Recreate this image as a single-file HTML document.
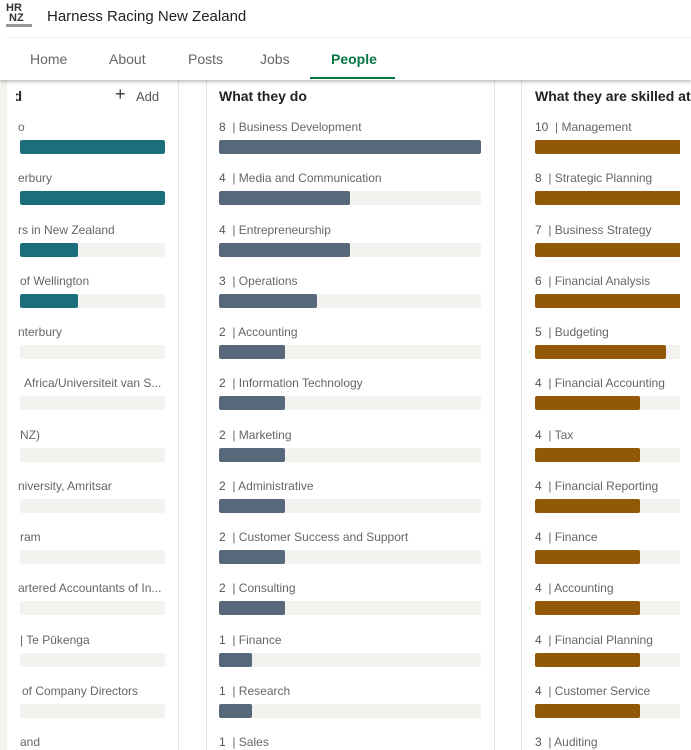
<!DOCTYPE html>
<html><head><meta charset="utf-8"><style>
*{margin:0;padding:0;box-sizing:border-box}
body{width:691px;height:750px;overflow:hidden;background:#fff;font-family:"Liberation Sans","DejaVu Sans",sans-serif;position:relative}
.a{position:absolute;white-space:nowrap}
.lbl{font-size:12px;color:#666;line-height:14px}
.lbl b{font-weight:normal;color:#555}
.tr{position:absolute;height:14px;background:#f3f2ef;border-radius:2px;overflow:hidden}
.f{height:100%;border-radius:2px}
.h{font-size:14px;font-weight:bold;color:#222}
.nav{font-size:14px;color:#666}
#rc{position:absolute;left:0;top:0;width:680px;height:750px;overflow:hidden}
</style></head><body>
<div class="a" style="left:0;top:80px;width:7px;height:670px;background:#f3f2ef"></div>
<div class="a" style="left:7px;top:80px;width:172px;height:670px;border-right:1px solid #e6e6e6;overflow:hidden"></div>
<div class="a" style="left:206px;top:80px;width:289px;height:670px;border-left:1px solid #e6e6e6;border-right:1px solid #e6e6e6"></div>
<div class="a" style="left:521px;top:80px;width:170px;height:670px;border-left:1px solid #e6e6e6"></div>
<!-- header -->
<div class="a" style="left:0;top:0;width:691px;height:80px;background:#fff;box-shadow:0 2px 3px rgba(0,0,0,0.25)"></div>
<div class="a" style="left:6px;top:3px;font-size:11px;font-weight:bold;line-height:10px;color:#333">HR<br>&nbsp;NZ</div>
<div class="a" style="left:6px;top:24px;width:26px;height:3px;background:#999"></div>
<div class="a" style="left:47px;top:8px;font-size:15px;color:#222">Harness Racing New Zealand</div>
<div class="a" style="left:7px;top:37px;width:684px;height:1px;background:#eee"></div>
<div class="a nav" style="left:30px;top:51px">Home</div>
<div class="a nav" style="left:109px;top:51px">About</div>
<div class="a nav" style="left:188px;top:51px">Posts</div>
<div class="a nav" style="left:260px;top:51px">Jobs</div>
<div class="a nav" style="left:331px;top:51px;color:#057642;font-weight:bold">People</div>
<div class="a" style="left:310px;top:77px;width:85px;height:2px;background:#057642"></div>
<!-- column headers -->
<div class="a h" style="left:16px;top:88px;width:6px;overflow:hidden;direction:rtl">d</div>
<div class="a" style="left:115px;top:84px;font-size:18px;color:#333">+</div>
<div class="a" style="left:136px;top:89px;font-size:13px;color:#555">Add</div>
<div class="a h" style="left:219px;top:88px">What they do</div>
<div class="a h" style="left:535px;top:88px">What they are skilled at</div>

<!-- left -->
<div class="a lbl" style="left:18px;top:120px">o</div><div class="tr" style="left:20px;top:140px;width:145px"><div class="f" style="width:100%;background:#1b6f7c"></div></div>
<div class="a lbl" style="left:18px;top:171px">erbury</div><div class="tr" style="left:20px;top:191px;width:145px"><div class="f" style="width:100%;background:#1b6f7c"></div></div>
<div class="a lbl" style="left:18px;top:223px">rs in New Zealand</div><div class="tr" style="left:20px;top:243px;width:145px"><div class="f" style="width:58px;background:#1b6f7c"></div></div>
<div class="a lbl" style="left:20px;top:274px">of Wellington</div><div class="tr" style="left:20px;top:294px;width:145px"><div class="f" style="width:58px;background:#1b6f7c"></div></div>
<div class="a lbl" style="left:18px;top:325px">nterbury</div><div class="tr" style="left:20px;top:345px;width:145px"></div>
<div class="a lbl" style="left:24px;top:376px">Africa/Universiteit van S...</div><div class="tr" style="left:20px;top:396px;width:145px"></div>
<div class="a lbl" style="left:20px;top:428px">NZ)</div><div class="tr" style="left:20px;top:448px;width:145px"></div>
<div class="a lbl" style="left:18px;top:479px">niversity, Amritsar</div><div class="tr" style="left:20px;top:499px;width:145px"></div>
<div class="a lbl" style="left:20px;top:530px">ram</div><div class="tr" style="left:20px;top:550px;width:145px"></div>
<div class="a lbl" style="left:18px;top:581px">artered Accountants of In...</div><div class="tr" style="left:20px;top:601px;width:145px"></div>
<div class="a lbl" style="left:20px;top:633px">| Te Pūkenga</div><div class="tr" style="left:20px;top:653px;width:145px"></div>
<div class="a lbl" style="left:22px;top:684px">of Company Directors</div><div class="tr" style="left:20px;top:704px;width:145px"></div>
<div class="a lbl" style="left:20px;top:735px">and</div>

<!-- middle -->
<div class="a lbl" style="left:219px;top:120px"><b>8</b>&nbsp; | Business Development</div><div class="tr" style="left:219px;top:140px;width:262px"><div class="f" style="width:262px;background:#56687a"></div></div>
<div class="a lbl" style="left:219px;top:171px"><b>4</b>&nbsp; | Media and Communication</div><div class="tr" style="left:219px;top:191px;width:262px"><div class="f" style="width:131px;background:#56687a"></div></div>
<div class="a lbl" style="left:219px;top:223px"><b>4</b>&nbsp; | Entrepreneurship</div><div class="tr" style="left:219px;top:243px;width:262px"><div class="f" style="width:131px;background:#56687a"></div></div>
<div class="a lbl" style="left:219px;top:274px"><b>3</b>&nbsp; | Operations</div><div class="tr" style="left:219px;top:294px;width:262px"><div class="f" style="width:98px;background:#56687a"></div></div>
<div class="a lbl" style="left:219px;top:325px"><b>2</b>&nbsp; | Accounting</div><div class="tr" style="left:219px;top:345px;width:262px"><div class="f" style="width:66px;background:#56687a"></div></div>
<div class="a lbl" style="left:219px;top:376px"><b>2</b>&nbsp; | Information Technology</div><div class="tr" style="left:219px;top:396px;width:262px"><div class="f" style="width:66px;background:#56687a"></div></div>
<div class="a lbl" style="left:219px;top:428px"><b>2</b>&nbsp; | Marketing</div><div class="tr" style="left:219px;top:448px;width:262px"><div class="f" style="width:66px;background:#56687a"></div></div>
<div class="a lbl" style="left:219px;top:479px"><b>2</b>&nbsp; | Administrative</div><div class="tr" style="left:219px;top:499px;width:262px"><div class="f" style="width:66px;background:#56687a"></div></div>
<div class="a lbl" style="left:219px;top:530px"><b>2</b>&nbsp; | Customer Success and Support</div><div class="tr" style="left:219px;top:550px;width:262px"><div class="f" style="width:66px;background:#56687a"></div></div>
<div class="a lbl" style="left:219px;top:581px"><b>2</b>&nbsp; | Consulting</div><div class="tr" style="left:219px;top:601px;width:262px"><div class="f" style="width:66px;background:#56687a"></div></div>
<div class="a lbl" style="left:219px;top:633px"><b>1</b>&nbsp; | Finance</div><div class="tr" style="left:219px;top:653px;width:262px"><div class="f" style="width:33px;background:#56687a"></div></div>
<div class="a lbl" style="left:219px;top:684px"><b>1</b>&nbsp; | Research</div><div class="tr" style="left:219px;top:704px;width:262px"><div class="f" style="width:33px;background:#56687a"></div></div>
<div class="a lbl" style="left:219px;top:735px"><b>1</b>&nbsp; | Sales</div>

<!-- right -->
<div id="rc">
<div class="a lbl" style="left:535px;top:120px"><b>10</b>&nbsp; | Management</div><div class="tr" style="left:535px;top:140px;width:262px"><div class="f" style="width:262px;background:#915907"></div></div>
<div class="a lbl" style="left:535px;top:171px"><b>8</b>&nbsp; | Strategic Planning</div><div class="tr" style="left:535px;top:191px;width:262px"><div class="f" style="width:210px;background:#915907"></div></div>
<div class="a lbl" style="left:535px;top:223px"><b>7</b>&nbsp; | Business Strategy</div><div class="tr" style="left:535px;top:243px;width:262px"><div class="f" style="width:183px;background:#915907"></div></div>
<div class="a lbl" style="left:535px;top:274px"><b>6</b>&nbsp; | Financial Analysis</div><div class="tr" style="left:535px;top:294px;width:262px"><div class="f" style="width:157px;background:#915907"></div></div>
<div class="a lbl" style="left:535px;top:325px"><b>5</b>&nbsp; | Budgeting</div><div class="tr" style="left:535px;top:345px;width:262px"><div class="f" style="width:131px;background:#915907"></div></div>
<div class="a lbl" style="left:535px;top:376px"><b>4</b>&nbsp; | Financial Accounting</div><div class="tr" style="left:535px;top:396px;width:262px"><div class="f" style="width:105px;background:#915907"></div></div>
<div class="a lbl" style="left:535px;top:428px"><b>4</b>&nbsp; | Tax</div><div class="tr" style="left:535px;top:448px;width:262px"><div class="f" style="width:105px;background:#915907"></div></div>
<div class="a lbl" style="left:535px;top:479px"><b>4</b>&nbsp; | Financial Reporting</div><div class="tr" style="left:535px;top:499px;width:262px"><div class="f" style="width:105px;background:#915907"></div></div>
<div class="a lbl" style="left:535px;top:530px"><b>4</b>&nbsp; | Finance</div><div class="tr" style="left:535px;top:550px;width:262px"><div class="f" style="width:105px;background:#915907"></div></div>
<div class="a lbl" style="left:535px;top:581px"><b>4</b>&nbsp; | Accounting</div><div class="tr" style="left:535px;top:601px;width:262px"><div class="f" style="width:105px;background:#915907"></div></div>
<div class="a lbl" style="left:535px;top:633px"><b>4</b>&nbsp; | Financial Planning</div><div class="tr" style="left:535px;top:653px;width:262px"><div class="f" style="width:105px;background:#915907"></div></div>
<div class="a lbl" style="left:535px;top:684px"><b>4</b>&nbsp; | Customer Service</div><div class="tr" style="left:535px;top:704px;width:262px"><div class="f" style="width:105px;background:#915907"></div></div>
<div class="a lbl" style="left:535px;top:735px"><b>3</b>&nbsp; | Auditing</div>
</div>
</body></html>
